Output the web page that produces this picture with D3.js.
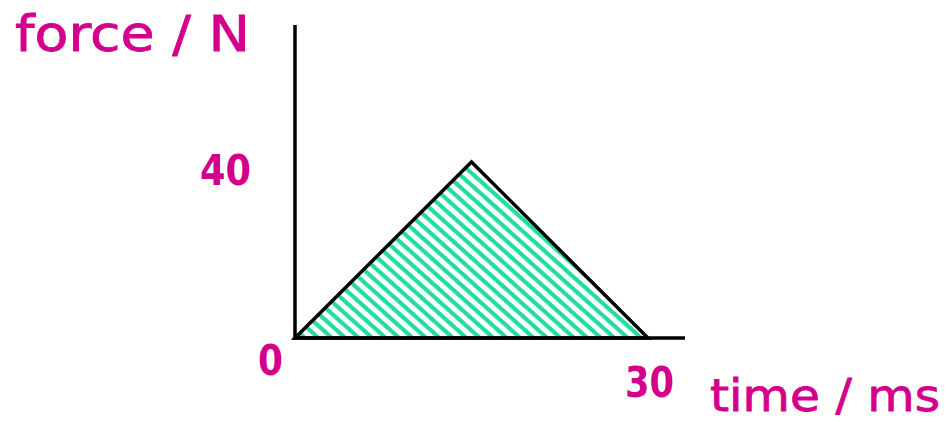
<!DOCTYPE html>
<html>
<head>
    <meta charset="utf-8">
    <title>Force time graph</title>
    <script type="text/javascript" src="https://cdn.jsdelivr.net/npm/d3@7"></script>
</head>
<body style="margin:0; background:#fff;">

<style>
.axis_line {
    stroke: #000;
    stroke-width: 3.5;
    fill: none;
}
.pulse {
    fill: url(#hatch);
    stroke: #000;
    stroke-width: 3.5;
    stroke-linejoin: miter;
}
.lbl {
    fill: #d4008c;
    stroke: #d4008c;
    stroke-width: 0.8;
    font-family: "Comic Sans MS", "DejaVu Sans", sans-serif;
}
.tick_lbl {
    font-weight: bold;
    stroke-width: 0;
}
</style>

<script type="text/javascript">
    var width = 947,
        height = 422;

    // data
    var times  = [0, 15, 30];      // ms
    var forces = [0, 40, 0];       // N
    var xTicks = [30];
    var yTicks = [40];
    var axisTitles = ["force / N", "time / ms"];

    var x = d3.scaleLinear()
            .domain([0, 30])
            .range([295, 648]),
        y = d3.scaleLinear()
            .domain([0, 40])
            .range([338, 162]);

    var xMax = x.invert(685),   // axis runs a bit past the data
        yMax = y.invert(25);

    var svg = d3.select("body").append("svg")
        .attr("width", width)
        .attr("height", height);

    var defs = svg.append("defs");
    var pat = defs.append("pattern")
        .attr("id", "hatch")
        .attr("patternUnits", "userSpaceOnUse")
        .attr("width", 9)
        .attr("height", 9)
        .attr("patternTransform", "rotate(42)");
    pat.append("rect")
        .attr("width", 9).attr("height", 9)
        .attr("fill", "#fff");
    pat.append("rect")
        .attr("width", 9).attr("height", 4.2)
        .attr("fill", "#22dca2");

    var pts = times.map(function(t, i){ return {t: t, f: forces[i]}; });

    var line = d3.line()
        .x(function(d){ return x(d.t); })
        .y(function(d){ return y(d.f); });

    svg.append("path")
        .attr("class", "pulse")
        .attr("d", line(pts) + "Z");

    // axes
    svg.append("path")
        .attr("class", "axis_line")
        .attr("d", line([{t: 0, f: yMax}, {t: 0, f: 0}, {t: xMax, f: 0}]));

    // labels
    svg.append("text")
        .attr("class", "lbl")
        .attr("x", 15).attr("y", 51)
        .attr("font-size", 50)
        .attr("textLength", 235)
        .attr("lengthAdjust", "spacingAndGlyphs")
        .text(axisTitles[0]);

    svg.append("text")
        .attr("class", "lbl")
        .attr("x", 710).attr("y", 411)
        .attr("font-size", 44)
        .attr("textLength", 230)
        .attr("lengthAdjust", "spacingAndGlyphs")
        .text(axisTitles[1]);

    svg.selectAll("text.ytick")
        .data(yTicks)
        .enter().append("text")
        .attr("class", "lbl tick_lbl ytick")
        .attr("x", x(0) - 95)
        .attr("y", function(d){ return y(d) + 23; })
        .attr("font-size", 42)
        .attr("textLength", 51)
        .attr("lengthAdjust", "spacingAndGlyphs")
        .text(function(d){ return d; });

    svg.selectAll("text.xtick")
        .data(xTicks)
        .enter().append("text")
        .attr("class", "lbl tick_lbl xtick")
        .attr("x", function(d){ return x(d) - 23; })
        .attr("y", y(0) + 59)
        .attr("font-size", 42)
        .attr("textLength", 49)
        .attr("lengthAdjust", "spacingAndGlyphs")
        .text(function(d){ return d; });

    svg.append("text")
        .attr("class", "lbl tick_lbl")
        .attr("x", x(0) - 37)
        .attr("y", y(0) + 37)
        .attr("font-size", 42)
        .attr("textLength", 25)
        .attr("lengthAdjust", "spacingAndGlyphs")
        .text(0);
</script>

</body>
</html>
